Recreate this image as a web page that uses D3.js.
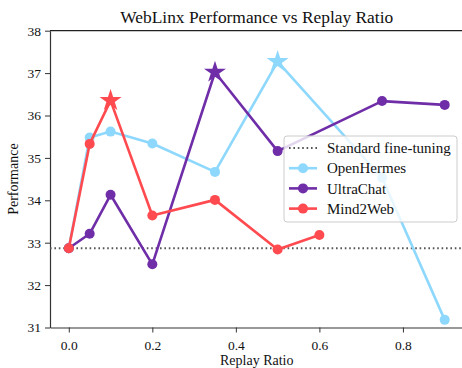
<!DOCTYPE html>
<html>
<head>
<meta charset="utf-8">
<script src="https://cdn.jsdelivr.net/npm/d3@7"></script>
<style>
  html, body { margin: 0; padding: 0; background: #fff; }
  svg { display: block; }
  text { font-family: "Liberation Serif", "DejaVu Serif", serif; fill: #111; }
</style>
</head>
<body>
<svg id="chart" width="462" height="368"></svg>
<script>
// Replay ratios and scores for each replay source
const ratiosOpenHermes = [0, 0.05, 0.1, 0.2, 0.35, 0.5, 0.75, 0.9];
const scoresOpenHermes = [32.87, 35.48, 35.62, 35.34, 34.67, 37.27, 34.53, 31.18];

const ratiosUltraChat = [0, 0.05, 0.1, 0.2, 0.35, 0.5, 0.75, 0.9];
const scoresUltraChat = [32.87, 33.21, 34.13, 32.49, 37.02, 35.16, 36.34, 36.25];

const ratiosMind2Web = [0, 0.05, 0.1, 0.2, 0.35, 0.5, 0.6];
const scoresMind2Web = [32.87, 35.33, 36.35, 33.64, 34.01, 32.84, 33.18];

const baselineScore = 32.87;

const seriesNames = ["OpenHermes", "UltraChat", "Mind2Web"];
const seriesColors = ["#8dd8fc", "#6f2da8", "#ff4a4f"];
const baselineLabel = "Standard fine-tuning";

const xTicks = [0.0, 0.2, 0.4, 0.6, 0.8];
const yTicks = [31, 32, 33, 34, 35, 36, 37, 38];

const titleText = "WebLinx Performance vs Replay Ratio";
const xLabel = "Replay Ratio";
const yLabel = "Performance";

const series = [
  { name: seriesNames[0], color: seriesColors[0], xs: ratiosOpenHermes, ys: scoresOpenHermes },
  { name: seriesNames[1], color: seriesColors[1], xs: ratiosUltraChat, ys: scoresUltraChat },
  { name: seriesNames[2], color: seriesColors[2], xs: ratiosMind2Web, ys: scoresMind2Web }
];

const svg = d3.select("#chart");
const plotLeft = 50, plotRight = 463.5, plotTop = 30.7, plotBottom = 327.5;

const x = d3.scaleLinear().domain([-0.045, 0.945]).range([plotLeft, plotRight]);
const y = d3.scaleLinear().domain([31, 38]).range([plotBottom, plotTop]);

// Axes
const xAxis = svg.append("g")
  .attr("transform", `translate(0,${plotBottom})`)
  .call(d3.axisBottom(x).tickValues(xTicks).tickFormat(d3.format(".1f")).tickSize(5).tickSizeOuter(0));
const yAxis = svg.append("g")
  .attr("transform", `translate(${plotLeft},0)`)
  .call(d3.axisLeft(y).tickValues(yTicks).tickFormat(d3.format("d")).tickSize(5).tickSizeOuter(0));

[xAxis, yAxis].forEach(g => {
  g.select(".domain").attr("stroke", "#333").attr("stroke-width", 1.2);
  g.selectAll(".tick line").attr("stroke", "#333").attr("stroke-width", 1);
  g.selectAll(".tick text").attr("font-size", 13.5).attr("fill", "#111")
    .style("font-family", "'Liberation Serif', serif");
});
xAxis.selectAll(".tick text").attr("dy", "1.05em");
yAxis.selectAll(".tick text").attr("x", -9);

// Top spine
svg.append("line")
  .attr("x1", plotLeft).attr("x2", plotRight)
  .attr("y1", plotTop).attr("y2", plotTop)
  .attr("stroke", "#222").attr("stroke-width", 1.2);

// Baseline reference line
svg.append("line")
  .attr("x1", plotLeft).attr("x2", plotRight)
  .attr("y1", y(baselineScore)).attr("y2", y(baselineScore))
  .attr("stroke", "#555").attr("stroke-width", 2)
  .attr("stroke-dasharray", "1.6,2.8");

const line = d3.line().x(d => x(d[0])).y(d => y(d[1]));
const star = d3.symbol().type(d3.symbolStar).size(150);

series.forEach(s => {
  const pts = s.xs.map((v, i) => [v, s.ys[i]]);
  const best = d3.maxIndex(s.ys);
  const g = svg.append("g");
  g.append("path")
    .attr("d", line(pts))
    .attr("fill", "none")
    .attr("stroke", s.color)
    .attr("stroke-width", 2.6)
    .attr("stroke-linejoin", "round");
  g.selectAll("circle")
    .data(pts.filter((p, i) => i !== best))
    .join("circle")
    .attr("cx", d => x(d[0]))
    .attr("cy", d => y(d[1]))
    .attr("r", 5)
    .attr("fill", s.color);
  g.append("path")
    .attr("d", star())
    .attr("transform", `translate(${x(pts[best][0])},${y(pts[best][1])})`)
    .attr("fill", s.color);
});

// Title and axis labels
svg.append("text")
  .attr("x", (plotLeft + plotRight) / 2).attr("y", 23)
  .attr("text-anchor", "middle").attr("font-size", 17.4)
  .text(titleText);
svg.append("text")
  .attr("x", (plotLeft + plotRight) / 2).attr("y", 365)
  .attr("text-anchor", "middle").attr("font-size", 14)
  .text(xLabel);
svg.append("text")
  .attr("transform", `translate(18,${(plotTop + plotBottom) / 2}) rotate(-90)`)
  .attr("text-anchor", "middle").attr("font-size", 14)
  .text(yLabel);

// Legend
const lg = svg.append("g").attr("transform", "translate(284,136)");
lg.append("rect")
  .attr("width", 173).attr("height", 86).attr("rx", 3)
  .attr("fill", "#fff").attr("fill-opacity", 0.8)
  .attr("stroke", "#ccc").attr("stroke-width", 1);

const legendItems = [{ name: baselineLabel, baseline: true }].concat(series);
legendItems.forEach((item, i) => {
  const cy = 12 + i * 20.2;
  const row = lg.append("g").attr("transform", `translate(0,${cy})`);
  if (item.baseline) {
    row.append("line")
      .attr("x1", 5).attr("x2", 33).attr("y1", 0).attr("y2", 0)
      .attr("stroke", "#555").attr("stroke-width", 2)
      .attr("stroke-dasharray", "1.6,2.8");
  } else {
    row.append("line")
      .attr("x1", 5).attr("x2", 33).attr("y1", 0).attr("y2", 0)
      .attr("stroke", item.color).attr("stroke-width", 2.6);
    row.append("circle").attr("cx", 19).attr("cy", 0).attr("r", 5).attr("fill", item.color);
  }
  row.append("text")
    .attr("x", 43).attr("y", 0).attr("dy", "0.35em")
    .attr("font-size", 15)
    .text(item.name);
});
</script>
</body>
</html>
